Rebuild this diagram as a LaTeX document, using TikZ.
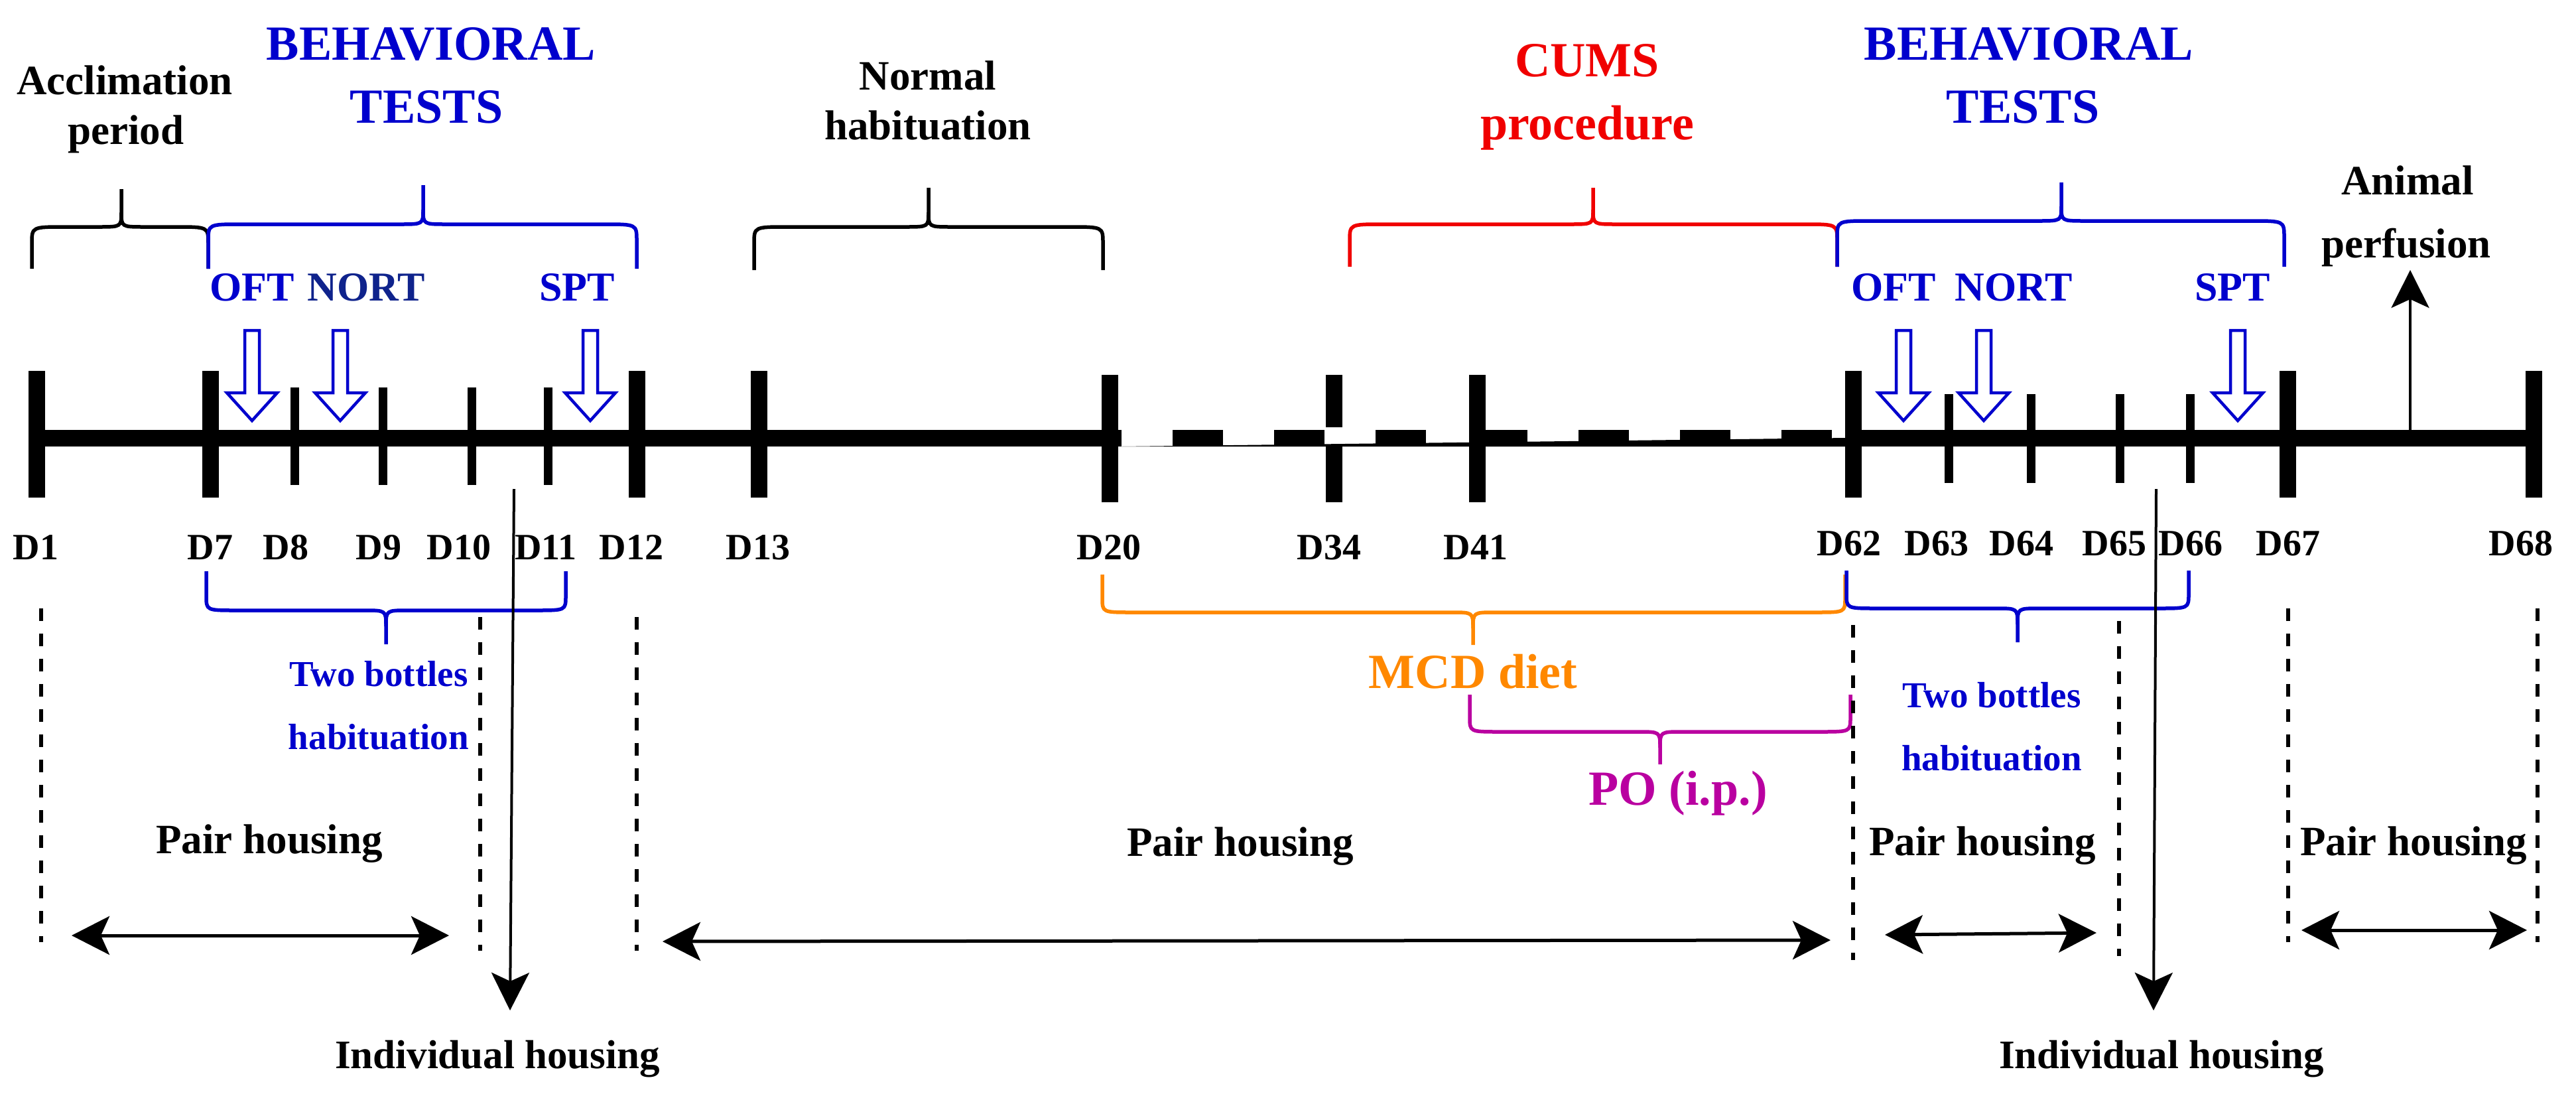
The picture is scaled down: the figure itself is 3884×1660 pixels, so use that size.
\documentclass[tikz,border=0pt]{standalone}
\usepackage{fontspec}
\setmainfont{Liberation Serif}
\usetikzlibrary{arrows.meta}
\definecolor{tblue}{RGB}{0,0,205}
\definecolor{tnavy}{RGB}{15,35,140}
\definecolor{tred}{RGB}{240,0,0}
\definecolor{torange}{RGB}{255,136,0}
\definecolor{tmag}{RGB}{185,0,160}
\newcommand\fsz[1]{\fontsize{#1}{#1}\selectfont}
% top brace: legs go down to #5, bar at #6, tip up to #7
\newcommand\bracetop[7]{%
  \draw[bracestyle,#1] (#2,#5) -- (#2,#6+25) .. controls (#2,#6) .. (#2+50,#6) -- (#4-35,#6) .. controls (#4,#6) .. (#4,#6-22) -- (#4,#7);
  \draw[bracestyle,#1] (#3,#5) -- (#3,#6+25) .. controls (#3,#6) .. (#3-50,#6) -- (#4+35,#6) .. controls (#4,#6) .. (#4,#6-22);
}
% bottom brace: legs go up to #5, bar at #6, tip down to #7
\newcommand\bracebot[7]{%
  \draw[bracestyle,#1] (#2,#5) -- (#2,#6-22) .. controls (#2,#6) .. (#2+45,#6) -- (#4-33,#6) .. controls (#4,#6) .. (#4,#6+24) -- (#4,#7);
  \draw[bracestyle,#1] (#3,#5) -- (#3,#6-22) .. controls (#3,#6) .. (#3-45,#6) -- (#4+33,#6) .. controls (#4,#6) .. (#4,#6+24);
}
\newcommand\hollowarrow[1]{%
  \draw[hollowstyle] (#1-11,498) -- (#1+11,498) -- (#1+11,592) -- (#1+38,592) -- (#1,634) -- (#1-38,592) -- (#1-11,592) -- cycle;
}
\newcommand\daytick[4]{\fill (#1-#2/2,#3) rectangle (#1+#2/2,#4);}
\begin{document}
\begin{tikzpicture}[x=1pt,y=-1pt,
  txt/.style={inner sep=0pt,anchor=base},
  blk/.style={txt,font=\bfseries\fsz{63}},
  head/.style={txt,font=\bfseries\fsz{74}},
  test/.style={txt,font=\bfseries\fsz{62}},
  day/.style={txt,font=\bfseries\fsz{56}},
  small/.style={txt,font=\bfseries\fsz{55}},
  ind/.style={txt,font=\bfseries\fsz{61}},
  bracestyle/.style={line width=5.5pt,line cap=butt,line join=round},
  hollowstyle/.style={draw=tblue,fill=white,line width=4.5pt,line join=miter},
  dashv/.style={line width=6pt,dash pattern=on 19pt off 19pt},
  dbl/.style={line width=5pt,{Stealth[length=57pt,width=58pt,inset=13pt]}-{Stealth[length=57pt,width=58pt,inset=13pt]}},
  onearrow/.style={line width=4pt,-{Stealth[length=57pt,width=57pt,inset=13pt]}}
]
\useasboundingbox (0,0) rectangle (3884,1660);

% ---------------- top labels ----------------
\node[blk] (accl1) at (188,142) {Acclimation};
\node[blk] (accl2) at (190,217) {period};
\node[head,text=tblue] (bt1a) at (650,90) {BEHAVIORAL};
\node[head,text=tblue] (bt1b) at (643,185) {TESTS};
\node[blk] (norm1) at (1399,135) {Normal};
\node[blk] (norm2) at (1399,210) {habituation};
\node[head,text=tred] (cums1) at (2393,115) {CUMS};
\node[head,text=tred] (cums2) at (2393,210) {procedure};
\node[head,text=tblue] (bt2a) at (3059,90) {BEHAVIORAL};
\node[head,text=tblue] (bt2b) at (3050,185) {TESTS};
\node[blk] (anim1) at (3630,293) {Animal};
\node[blk] (anim2) at (3628,388) {perfusion};

% ---------------- top braces ----------------
\bracetop{black}{48}{314}{183}{405}{342}{285}
\bracetop{tblue}{314}{960}{638}{405}{338}{279}
\bracetop{black}{1137}{1663}{1400}{407}{342}{283}
\bracetop{tred}{2035}{2770}{2402}{402}{338}{283}
\bracetop{tblue}{2770}{3444}{3108}{402}{333}{275}

% ---------------- tests ----------------
\node[test,text=tblue] (oft1) at (380,453) {OFT};
\node[test,text=tnavy] (nort1) at (552,453) {NORT};
\node[test,text=tblue] (spt1) at (870,453) {SPT};
\node[test,text=tblue] (oft2) at (2855,453) {OFT};
\node[test,text=tblue] (nort2) at (3036,453) {NORT};
\node[test,text=tblue] (spt2) at (3366,453) {SPT};
\hollowarrow{380}
\hollowarrow{513}
\hollowarrow{890}
\hollowarrow{2870}
\hollowarrow{2991}
\hollowarrow{3374}

% ---------------- timeline ----------------
\fill (43,648) rectangle (1691,673);
\fill (2782,648) rectangle (3831,673);
\foreach \k in {0,...,6} {\fill (1768+153*\k,648) rectangle (1844+153*\k,673);}
\fill (1691,673) -- (2784,660) -- (2784,673) -- cycle;
% major ticks
\foreach \x in {55,317,960,1144,2794,3449,3820} {\daytick{\x}{25}{559}{750}}
\foreach \x in {1673,2227} {\daytick{\x}{25}{565}{757}}
\daytick{2011}{25}{565}{644}
\daytick{2011}{25}{673}{757}
% small ticks
\foreach \x in {444,577,711,826} {\daytick{\x}{13}{584}{731}}
\foreach \x in {2938,3062,3196,3302} {\daytick{\x}{13}{594}{728}}

% day labels
\foreach \x/\t in {54/D1,317/D7,431/D8,571/D9,692/D10,823/D11,952/D12,1143/D13,1672/D20,2004/D34,2225/D41}
  {\node[day] (lab\t) at (\x,843) {\t};}
\foreach \x/\t in {2788/D62,2920/D63,3048/D64,3188/D65,3303/D66,3450/D67,3801/D68}
  {\node[day] (lab\t) at (\x,837) {\t};}

% animal perfusion arrow
\coordinate (apbase) at (3634,648);
\coordinate (aptip) at (3634,407);
\draw[onearrow] (apbase) -- (aptip);

% ---------------- bottom braces ----------------
\bracebot{tblue}{311}{853}{582}{861}{920}{971}
\bracebot{torange}{1662}{2782}{2221}{866}{923}{972}
\bracebot{tblue}{2784}{3300}{3042}{860}{917}{968}
\bracebot{tmag}{2216}{2790}{2503}{1047}{1103}{1152}

\node[small,text=tblue] (tb1a) at (571,1034) {Two bottles};
\node[small,text=tblue] (tb1b) at (571,1129) {habituation};
\node[small,text=tblue] (tb2a) at (3003,1066) {Two bottles};
\node[small,text=tblue] (tb2b) at (3003,1161) {habituation};
\node[head,text=torange] (mcd) at (2221,1037) {MCD diet};
\node[head,text=tmag] (po) at (2530,1213) {PO (i.p.)};

% ---------------- dashed separators ----------------
\draw[dashv] (62,917) -- (62,1420);
\draw[dashv] (724,930) -- (724,1433);
\draw[dashv] (960,930) -- (960,1433);
\draw[dashv] (2794,942) -- (2794,1447);
\draw[dashv] (3195,936) -- (3195,1441);
\draw[dashv] (3450,917) -- (3450,1420);
\draw[dashv] (3826,917) -- (3826,1420);

% ---------------- housing ----------------
\node[blk] (ph1) at (406,1286) {Pair housing};
\node[blk] (ph2) at (1870,1290) {Pair housing};
\node[blk] (ph3) at (2989,1289) {Pair housing};
\node[blk] (ph4) at (3639,1289) {Pair housing};

\coordinate (a1l) at (108,1410);  \coordinate (a1r) at (677,1410);
\coordinate (a2l) at (999,1419);  \coordinate (a2r) at (2760,1417);
\coordinate (a3l) at (2842,1409); \coordinate (a3r) at (3161,1406);
\coordinate (a4l) at (3470,1402); \coordinate (a4r) at (3810,1402);
\draw[dbl] (a1l) -- (a1r);
\draw[dbl] (a2l) -- (a2r);
\draw[dbl] (a3l) -- (a3r);
\draw[dbl] (a4l) -- (a4r);

\coordinate (ih1top) at (775,737);  \coordinate (ih1tip) at (769,1523);
\coordinate (ih2top) at (3251,737); \coordinate (ih2tip) at (3247,1523);
\draw[onearrow] (ih1top) -- (ih1tip);
\draw[onearrow] (ih2top) -- (ih2tip);
\node[ind] (ih1) at (750,1610) {Individual housing};
\node[ind] (ih2) at (3259,1610) {Individual housing};
\end{tikzpicture}
\end{document}
